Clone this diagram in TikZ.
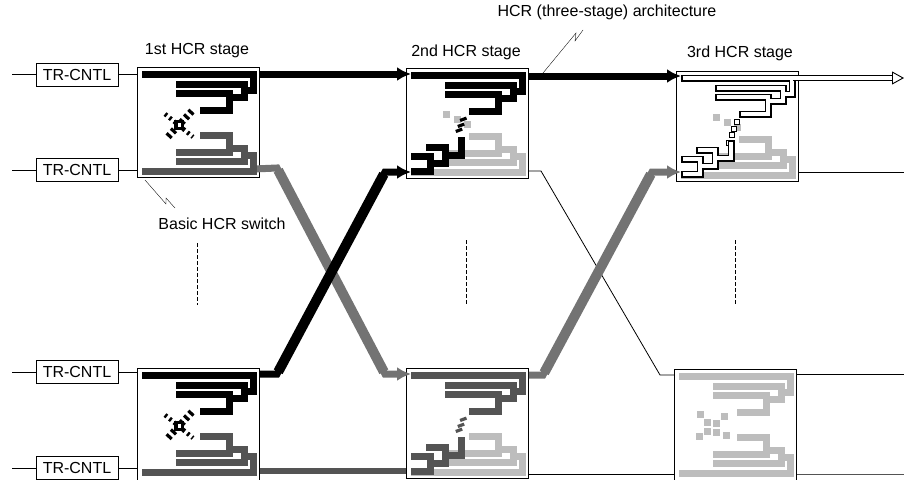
\documentclass[tikz,border=0pt]{standalone}
\usepackage{fontspec}
\setmainfont{Liberation Sans}
\usetikzlibrary{arrows.meta, calc}

\definecolor{hcrdark}{gray}{0.33}
\definecolor{hcrmid}{gray}{0.45}
\definecolor{hcrlight}{gray}{0.74}

\begin{document}
\begin{tikzpicture}[
		x=1pt, y=-1pt,
		font=\fontsize{16}{19}\selectfont,
		% Style for the boxes
		ctrl/.style={draw, line width=0.7pt, minimum width=82pt, minimum height=23pt, inner sep=0pt},
		sw/.style={draw, line width=0.9pt, fill=white, minimum width=122pt, minimum height=110pt, inner sep=0pt, anchor=north west},
		title/.style={inner sep=0pt},
		% Connector styles
		wire/.style={line width=0.8pt},
		heavy/.style={line width=7pt, -{Latex[length=14pt, width=14pt]}, shorten >=-5pt},
		slant/.style={line width=10pt, shorten >=2.5pt, shorten <=2.5pt},
		bar/.style={line width=6.5pt},
		leader/.style={line width=0.35pt},
		omit/.style={line width=0.8pt, dash pattern=on 3.5pt off 2.5pt},
		% Tree strokes
		tree/.style={line width=7pt},
		blank/.style={white, line width=3.8pt, shorten >=1.5pt, shorten <=1.5pt},
		% Trees of the basic switch
		pics/uptree/.style={code={
			\draw[tree, #1] (5,7) -- (116,7) -- (116,23) -- (107,23);
			\draw[tree, #1] (39,17) -- (107,17) -- (107,30) -- (92,30);
			\draw[tree, #1] (39,26) -- (92,26) -- (92,43) -- (63,43);
		}},
		pics/lowtree/.style={code={
			\draw[tree, #1] (5,104) -- (116,104) -- (116,88) -- (107,88);
			\draw[tree, #1] (39,94) -- (107,94) -- (107,81) -- (92,81);
			\draw[tree, #1] (39,85) -- (92,85) -- (92,68) -- (63,68);
		}},
		pics/intree/.style={code={
			\draw[tree, #1] (5,103) -- (24,103) -- (24,88) -- (5,88);
			\draw[tree, #1] (24,95) -- (39,95) -- (39,79) -- (20,79);
			\draw[tree, #1] (39,87) -- (55,87) -- (55,69);
		}},
		pics/crossing/.style={code={
			\draw[line width=7pt, dash pattern=on 3.2pt off 3.2pt, #1] (55,44) -- (29,72);
			\draw[line width=4.5pt, dash pattern=on 2.4pt off 3.4pt, #1] (28,47) -- (56,70);
			\fill[#1] (37,53) rectangle (47,63);
			\fill[white] (41,56) rectangle (44,60);
		}},
		pics/stripes/.style={code={
			\foreach \px/\py in {57.3/51.3, 55/57.3, 53/62.3}
				\draw[line width=3.2pt, #1] (\px-3.2,\py+1.2) -- (\px+3.2,\py-1.2);
		}},
		pics/specks/.style={code={
			\fill[#1] (37.2,42.8) rectangle +(7,7);
			\fill[#1] (48.2,47.8) rectangle +(7,7);
			\fill[#1] (58,53) rectangle +(7,7);
		}},
		pics/blocks/.style={code={
			\foreach \px/\py in {26.7/45, 33.3/53, 42.7/54.7, 50.7/47.3, 33.3/62.7, 42.7/63, 25.7/67.3, 52.7/66.7}
				\fill[#1] (\px-3.5,\py-3.5) rectangle +(7,7);
		}},
		pics/hollow/.style={code={
			\foreach \px/\py in {60.7/50.7, 58.3/57.7, 55.7/64.3, 53/71.7}
				\draw[line width=1pt, fill=white] (\px-2.5,\py-2.5) rectangle +(5,5);
		}}
		]
		\useasboundingbox (0,0) rectangle (904,479);
		
		% --- Free ends ---
		\coordinate (lead1) at (12,74);
		\coordinate (lead2) at (12,170);
		\coordinate (lead3) at (12,372);
		\coordinate (lead4) at (12,468);
		\coordinate (out1) at (904,78);
		\coordinate (out2) at (904,172);
		\coordinate (out3) at (904,374);
		\coordinate (out4) at (904,474);
		
		% --- Bends of the crossing lines ---
		\coordinate (bend1) at (277,168);
		\coordinate (bend2) at (385,374);
		\coordinate (bend3) at (277,374);
		\coordinate (bend4) at (385,172);
		\coordinate (bend5) at (541,171);
		\coordinate (bend6) at (660,375);
		\coordinate (bend7) at (543,375);
		\coordinate (bend8) at (652,172);
		
		% --- Switches ---
		\node[sw] (sw11) at (137,67) {};
		\node[sw] (sw21) at (406,68) {};
		\node[sw] (sw31) at (676,71) {};
		\node[sw, minimum height=116pt] (sw12) at (137,368) {};
		\node[sw] (sw22) at (406,368) {};
		\node[sw, minimum height=116pt] (sw32) at (674,369) {};
		
		% --- Controllers ---
		\node[ctrl] (ctrl1) at (77,74.500) {TR-CNTL};
		\node[ctrl] (ctrl2) at (77,169.500) {TR-CNTL};
		\node[ctrl] (ctrl3) at (77,372) {TR-CNTL};
		\node[ctrl] (ctrl4) at (77,468) {TR-CNTL};
		
		\draw[wire] (lead1) -- (ctrl1.west |- lead1) (ctrl1.east |- lead1) -- (sw11.west |- lead1);
		\draw[wire] (lead2) -- (ctrl2.west |- lead2) (ctrl2.east |- lead2) -- (sw11.west |- lead2);
		\draw[wire] (lead3) -- (ctrl3.west |- lead3) (ctrl3.east |- lead3) -- (sw12.west |- lead3);
		\draw[wire] (lead4) -- (ctrl4.west |- lead4) (ctrl4.east |- lead4) -- (sw12.west |- lead4);
		
		% --- Links between the stages ---
		\draw[wire] (sw21.east |- bend5) -- (bend5) -- (bend6) -- (sw32.west |- bend6);
		\draw[wire] (sw22.east |- out4) -- (sw32.west |- out4);
		\draw[heavy, hcrmid] ($(sw11.east |- bend1)+(-6,1)$) -- (bend1) -- (bend2) -- (sw22.west |- bend2);
		\draw[slant, hcrmid] (bend1) -- (bend2);
		\draw[heavy, hcrmid] (sw22.east |- bend7) -- (bend7) -- (bend8) -- (sw31.west |- bend8);
		\draw[slant, hcrmid] (bend7) -- (bend8);
		\draw[heavy, black] (sw12.east |- bend3) -- (bend3) -- (bend4) -- (sw21.west |- bend4);
		\draw[slant, black] (bend3) -- (bend4);
		\draw[bar, hcrdark] (sw12.east |- 0,471) -- (sw22.west |- 0,471);
		\draw[heavy, black] (sw11.east |- 0,74) -- (sw21.west |- 0,74);
		\draw[heavy, black] (sw21.east |- 0,76) -- (sw31.west |- 0,76);
		
		% --- Outputs ---
		\draw[wire] (sw31.east |- out2) -- (out2);
		\draw[wire] (sw32.east |- out3) -- (out3);
		\draw[wire, hcrdark] (sw32.east |- out4) -- (out4);
		
		% --- Switch contents ---
		\pic at (sw11.north west) {uptree=black};
		\pic at (sw11.north west) {crossing=black};
		\pic at (sw11.north west) {lowtree=hcrdark};
		
		\pic at (sw21.north west) {uptree=black};
		\pic at (sw21.north west) {lowtree=hcrlight};
		\pic at (sw21.north west) {specks=hcrlight};
		\pic at (sw21.north west) {stripes=black};
		\pic at (sw21.north west) {intree=black};
		
		\pic at (sw31.north west) {lowtree=hcrlight};
		\pic at (sw31.north west) {specks=hcrlight};
		\pic at (sw31.north west) {uptree=black};
		\pic at (sw31.north west) {uptree=blank};
		\pic at (sw31.north west) {hollow};
		\pic at (sw31.north west) {intree=black};
		\pic at (sw31.north west) {intree=blank};
		
		\pic at (sw12.north west) {uptree=black};
		\pic at (sw12.north west) {crossing=black};
		\pic at (sw12.north west) {lowtree=hcrdark};
		
		\pic at (sw22.north west) {uptree=hcrdark};
		\pic at (sw22.north west) {lowtree=hcrlight};
		\pic at (sw22.north west) {stripes=hcrdark};
		\pic at (sw22.north west) {intree=hcrdark};
		
		\pic at (sw32.north west) {uptree=hcrlight};
		\pic at (sw32.north west) {lowtree=hcrlight};
		\pic at (sw32.north west) {blocks=hcrlight};
		
		% --- Open output line of the third stage ---
		\draw[bar, line width=6pt] ($(sw31.east |- out1)+(-6,0)$) -- ($(out1)+(-10,0)$);
		\draw[white, line width=3.4pt] ($(sw31.east |- out1)+(-6,0)$) -- ($(out1)+(-10,0)$);
		\draw[wire, white, -{Triangle[fill=white, color=black, length=12pt, width=13pt, line width=0.9pt]}] ($(out1)+(-13,0)$) -- (out1);
		
		% --- Titles ---
		\node[title] (stage1) at (197,51) {1st HCR stage};
		\node[title] (stage2) at (466,52) {2nd HCR stage};
		\node[title] (stage3) at (740,53) {3rd HCR stage};
		\node[title] (arch) at (607,12) {HCR (three-stage) architecture};
		\node[title] (basic) at (222,224) {Basic HCR switch};
		
		% --- Leaders ---
		\coordinate (tick1) at (145,180);
		\coordinate (tick2) at (543,73);
		\draw[leader] (tick1) -- (166,204) -- (166,198) -- (175,208);
		\draw[leader] (tick2) -- (576,33) -- (575,41) -- (583,30);
		
		% --- Omitted rows ---
		\coordinate (gap1) at (197,243);
		\coordinate (gap2) at (466,240);
		\coordinate (gap3) at (735,240);
		\draw[omit] (gap1) -- +(0,62);
		\draw[omit] (gap2) -- +(0,65);
		\draw[omit] (gap3) -- +(0,65);
		
	\end{tikzpicture}
\end{document}
